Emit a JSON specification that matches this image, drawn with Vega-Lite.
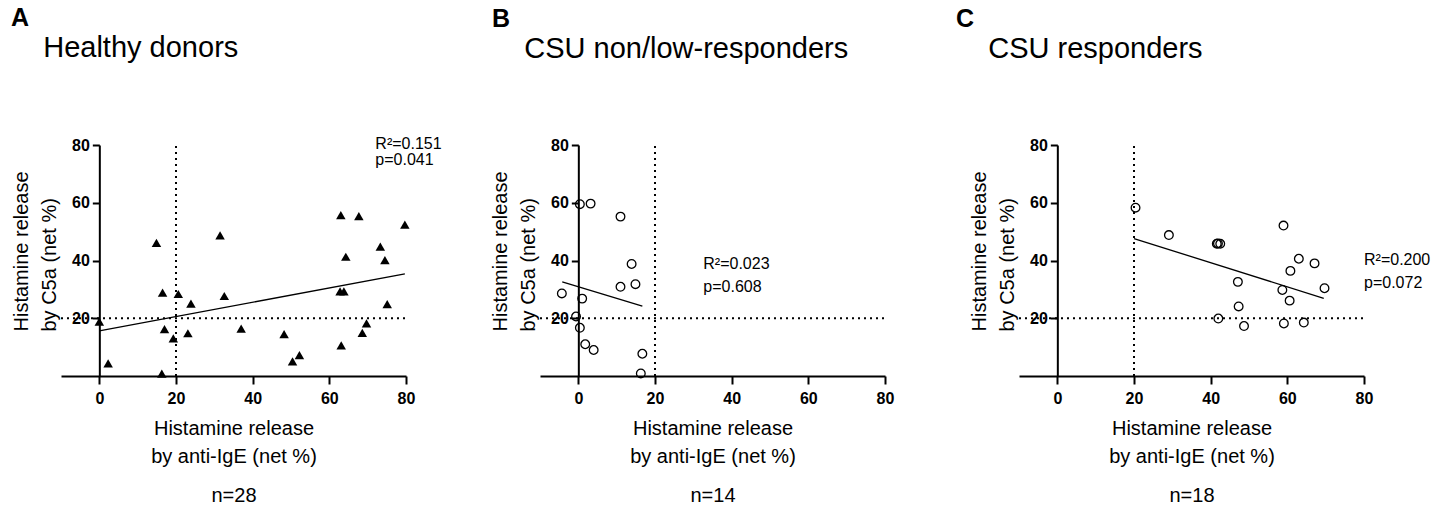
{
  "$schema": "https://vega.github.io/schema/vega-lite/v6.json",
  "padding": {"left": 11, "top": 5, "right": 2, "bottom": 0},
  "datasets": {
    "points": [
      {"panel": "A", "x": 0.0, "y": 18.8},
      {"panel": "A", "x": 2.3, "y": 4.4},
      {"panel": "A", "x": 14.9, "y": 46.1},
      {"panel": "A", "x": 16.5, "y": 28.9},
      {"panel": "A", "x": 17.0, "y": 16.2},
      {"panel": "A", "x": 16.3, "y": 0.8},
      {"panel": "A", "x": 19.3, "y": 13.0},
      {"panel": "A", "x": 20.6, "y": 28.4},
      {"panel": "A", "x": 23.9, "y": 25.1},
      {"panel": "A", "x": 23.1, "y": 14.8},
      {"panel": "A", "x": 31.5, "y": 48.7},
      {"panel": "A", "x": 32.6, "y": 27.7},
      {"panel": "A", "x": 37.0, "y": 16.4},
      {"panel": "A", "x": 48.2, "y": 14.5},
      {"panel": "A", "x": 50.4, "y": 5.1},
      {"panel": "A", "x": 52.2, "y": 7.2},
      {"panel": "A", "x": 63.0, "y": 55.7},
      {"panel": "A", "x": 67.7, "y": 55.4},
      {"panel": "A", "x": 64.3, "y": 41.3},
      {"panel": "A", "x": 62.8, "y": 29.3},
      {"panel": "A", "x": 63.8, "y": 29.3},
      {"panel": "A", "x": 63.1, "y": 10.6},
      {"panel": "A", "x": 68.6, "y": 14.9},
      {"panel": "A", "x": 69.7, "y": 18.2},
      {"panel": "A", "x": 73.3, "y": 44.8},
      {"panel": "A", "x": 74.5, "y": 40.1},
      {"panel": "A", "x": 75.1, "y": 24.9},
      {"panel": "A", "x": 79.7, "y": 52.4},
      {"panel": "B", "x": -4.3, "y": 28.6},
      {"panel": "B", "x": 0.4, "y": 59.5},
      {"panel": "B", "x": 3.2, "y": 59.7},
      {"panel": "B", "x": 1.0, "y": 26.8},
      {"panel": "B", "x": -0.6, "y": 20.6},
      {"panel": "B", "x": 0.4, "y": 16.7},
      {"panel": "B", "x": 1.8, "y": 11.0},
      {"panel": "B", "x": 4.0, "y": 9.0},
      {"panel": "B", "x": 11.0, "y": 55.2},
      {"panel": "B", "x": 11.0, "y": 30.9},
      {"panel": "B", "x": 13.9, "y": 38.8},
      {"panel": "B", "x": 14.9, "y": 31.8},
      {"panel": "B", "x": 16.7, "y": 7.7},
      {"panel": "B", "x": 16.3, "y": 0.9},
      {"panel": "C", "x": 20.4, "y": 58.3},
      {"panel": "C", "x": 29.1, "y": 48.8},
      {"panel": "C", "x": 41.6, "y": 45.8},
      {"panel": "C", "x": 41.9, "y": 45.9},
      {"panel": "C", "x": 42.5, "y": 45.8},
      {"panel": "C", "x": 47.1, "y": 32.6},
      {"panel": "C", "x": 47.3, "y": 24.1},
      {"panel": "C", "x": 42.0, "y": 19.9},
      {"panel": "C", "x": 48.7, "y": 17.3},
      {"panel": "C", "x": 59.0, "y": 52.1},
      {"panel": "C", "x": 63.0, "y": 40.6},
      {"panel": "C", "x": 67.1, "y": 39.0},
      {"panel": "C", "x": 60.8, "y": 36.4},
      {"panel": "C", "x": 58.7, "y": 29.8},
      {"panel": "C", "x": 60.6, "y": 26.1},
      {"panel": "C", "x": 59.1, "y": 18.2},
      {"panel": "C", "x": 64.3, "y": 18.5},
      {"panel": "C", "x": 69.7, "y": 30.4}
    ],
    "fits": [
      {"panel": "A", "x": 0.0, "y": 15.6},
      {"panel": "A", "x": 79.7, "y": 35.4},
      {"panel": "B", "x": -4.2, "y": 32.6},
      {"panel": "B", "x": 16.7, "y": 24.2},
      {"panel": "C", "x": 20.0, "y": 47.6},
      {"panel": "C", "x": 69.5, "y": 26.9}
    ],
    "stats": [
      {"panel": "A", "x": 72.0, "y": 80.4, "label": "R²=0.151"},
      {"panel": "A", "x": 72.0, "y": 74.7, "label": "p=0.041"},
      {"panel": "B", "x": 32.6, "y": 38.7, "label": "R²=0.023"},
      {"panel": "B", "x": 32.6, "y": 30.7, "label": "p=0.608"},
      {"panel": "C", "x": 80.0, "y": 40.1, "label": "R²=0.200"},
      {"panel": "C", "x": 80.0, "y": 32.2, "label": "p=0.072"}
    ],
    "guides": [
      {"x": 20, "x2": 20, "y": 0, "y2": 80},
      {"x": -10, "x2": 80, "y": 20, "y2": 20}
    ]
  },
  "config": {
    "font": "Liberation Sans",
    "view": {"stroke": null},
    "axis": {
      "grid": false,
      "domainColor": "black",
      "domainWidth": 2,
      "tickColor": "black",
      "tickWidth": 2,
      "tickSize": 8,
      "labelColor": "black",
      "labelFontSize": 16,
      "labelFontWeight": "bold",
      "labelFlush": false,
      "titleColor": "black",
      "titleFontSize": 20,
      "titleFontWeight": "normal",
      "titleLineHeight": 28,
      "titlePadding": 12
    },
    "axisX": {"labelPadding": 6},
    "axisY": {"labelPadding": 3, "tickSize": 7, "titleAlign": "left", "titleY": 186},
    "title": {
      "anchor": "start",
      "frame": "group",
      "offset": 73,
      "color": "black",
      "fontSize": 25,
      "fontWeight": "bold",
      "subtitleColor": "black",
      "subtitleFontSize": 29,
      "subtitlePadding": 0
    }
  },
  "spacing": 134,
  "bounds": "flush",
  "hconcat": [
    {
      "width": 345,
      "height": 231,
      "title": {"text": "A", "subtitle": "\u200b\u00a0\u00a0\u00a0\u00a0Healthy donors", "dx": -50},
      "encoding": {
        "y": {"field": "y", "type": "quantitative", "scale": {"domain": [0, 80], "nice": false}, "axis": {"values": [20, 40, 60, 80], "offset": -38.33, "title": ["Histamine release", "by C5a (net %)"]}}
      },
      "layer": [
        {
          "encoding": {
            "x": {"field": "x", "type": "quantitative", "scale": {"domain": [-10, 80], "nice": false, "zero": false}, "axis": {"values": [0, 20, 40, 60, 80], "title": ["Histamine release", "by anti-IgE (net %)"]}}
          },
          "layer": [
            {"data": {"name": "guides"}, "mark": {"type": "rule", "strokeDash": [2, 4], "strokeWidth": 2, "color": "black"}, "encoding": {"x2": {"field": "x2"}, "y2": {"field": "y2"}}},
            {"data": {"name": "points"}, "transform": [{"filter": "datum.panel === 'A'"}], "mark": {"type": "point", "shape": "triangle-up", "filled": true, "size": 90, "color": "black", "opacity": 1}},
            {"data": {"name": "stats"}, "transform": [{"filter": "datum.panel === 'A'"}], "mark": {"type": "text", "align": "left", "baseline": "middle", "fontSize": 16, "color": "black"}, "encoding": {"text": {"field": "label"}}}
          ]
        },
        {
          "data": {"name": "fits"},
          "transform": [{"filter": "datum.panel === 'A'"}],
          "mark": {"type": "line", "color": "black", "strokeWidth": 1.3},
          "encoding": {
            "x": {"field": "x", "type": "quantitative", "scale": {"domain": [-10, 80], "nice": false, "zero": false}, "axis": {"orient": "bottom", "title": "n=28", "domain": false, "ticks": false, "labels": false, "titlePadding": 109}}
          }
        }
      ],
      "resolve": {"axis": {"x": "independent"}}
    },
    {
      "width": 345,
      "height": 231,
      "title": {"text": "B", "subtitle": "\u200b\u00a0\u00a0\u00a0\u00a0CSU non/low-responders", "dx": -48},
      "encoding": {
        "y": {"field": "y", "type": "quantitative", "scale": {"domain": [0, 80], "nice": false}, "axis": {"values": [20, 40, 60, 80], "offset": -38.33, "title": ["Histamine release", "by C5a (net %)"]}}
      },
      "layer": [
        {
          "encoding": {
            "x": {"field": "x", "type": "quantitative", "scale": {"domain": [-10, 80], "nice": false, "zero": false}, "axis": {"values": [0, 20, 40, 60, 80], "title": ["Histamine release", "by anti-IgE (net %)"]}}
          },
          "layer": [
            {"data": {"name": "guides"}, "mark": {"type": "rule", "strokeDash": [2, 4], "strokeWidth": 2, "color": "black"}, "encoding": {"x2": {"field": "x2"}, "y2": {"field": "y2"}}},
            {"data": {"name": "points"}, "transform": [{"filter": "datum.panel === 'B'"}], "mark": {"type": "point", "shape": "circle", "filled": false, "size": 75, "strokeWidth": 1.3, "color": "black", "opacity": 1}},
            {"data": {"name": "stats"}, "transform": [{"filter": "datum.panel === 'B'"}], "mark": {"type": "text", "align": "left", "baseline": "middle", "fontSize": 16, "color": "black"}, "encoding": {"text": {"field": "label"}}}
          ]
        },
        {
          "data": {"name": "fits"},
          "transform": [{"filter": "datum.panel === 'B'"}],
          "mark": {"type": "line", "color": "black", "strokeWidth": 1.3},
          "encoding": {
            "x": {"field": "x", "type": "quantitative", "scale": {"domain": [-10, 80], "nice": false, "zero": false}, "axis": {"orient": "bottom", "title": "n=14", "domain": false, "ticks": false, "labels": false, "titlePadding": 109}}
          }
        }
      ],
      "resolve": {"axis": {"x": "independent"}}
    },
    {
      "width": 345,
      "height": 231,
      "title": {"text": "C", "subtitle": "\u200b\u00a0\u00a0\u00a0\u00a0CSU responders", "dx": -63},
      "encoding": {
        "y": {"field": "y", "type": "quantitative", "scale": {"domain": [0, 80], "nice": false}, "axis": {"values": [20, 40, 60, 80], "offset": -38.33, "title": ["Histamine release", "by C5a (net %)"]}}
      },
      "layer": [
        {
          "encoding": {
            "x": {"field": "x", "type": "quantitative", "scale": {"domain": [-10, 80], "nice": false, "zero": false}, "axis": {"values": [0, 20, 40, 60, 80], "title": ["Histamine release", "by anti-IgE (net %)"]}}
          },
          "layer": [
            {"data": {"name": "guides"}, "mark": {"type": "rule", "strokeDash": [2, 4], "strokeWidth": 2, "color": "black"}, "encoding": {"x2": {"field": "x2"}, "y2": {"field": "y2"}}},
            {"data": {"name": "points"}, "transform": [{"filter": "datum.panel === 'C'"}], "mark": {"type": "point", "shape": "circle", "filled": false, "size": 75, "strokeWidth": 1.3, "color": "black", "opacity": 1}},
            {"data": {"name": "stats"}, "transform": [{"filter": "datum.panel === 'C'"}], "mark": {"type": "text", "align": "left", "baseline": "middle", "fontSize": 16, "color": "black"}, "encoding": {"text": {"field": "label"}}}
          ]
        },
        {
          "data": {"name": "fits"},
          "transform": [{"filter": "datum.panel === 'C'"}],
          "mark": {"type": "line", "color": "black", "strokeWidth": 1.3},
          "encoding": {
            "x": {"field": "x", "type": "quantitative", "scale": {"domain": [-10, 80], "nice": false, "zero": false}, "axis": {"orient": "bottom", "title": "n=18", "domain": false, "ticks": false, "labels": false, "titlePadding": 109}}
          }
        }
      ],
      "resolve": {"axis": {"x": "independent"}}
    }
  ]
}
